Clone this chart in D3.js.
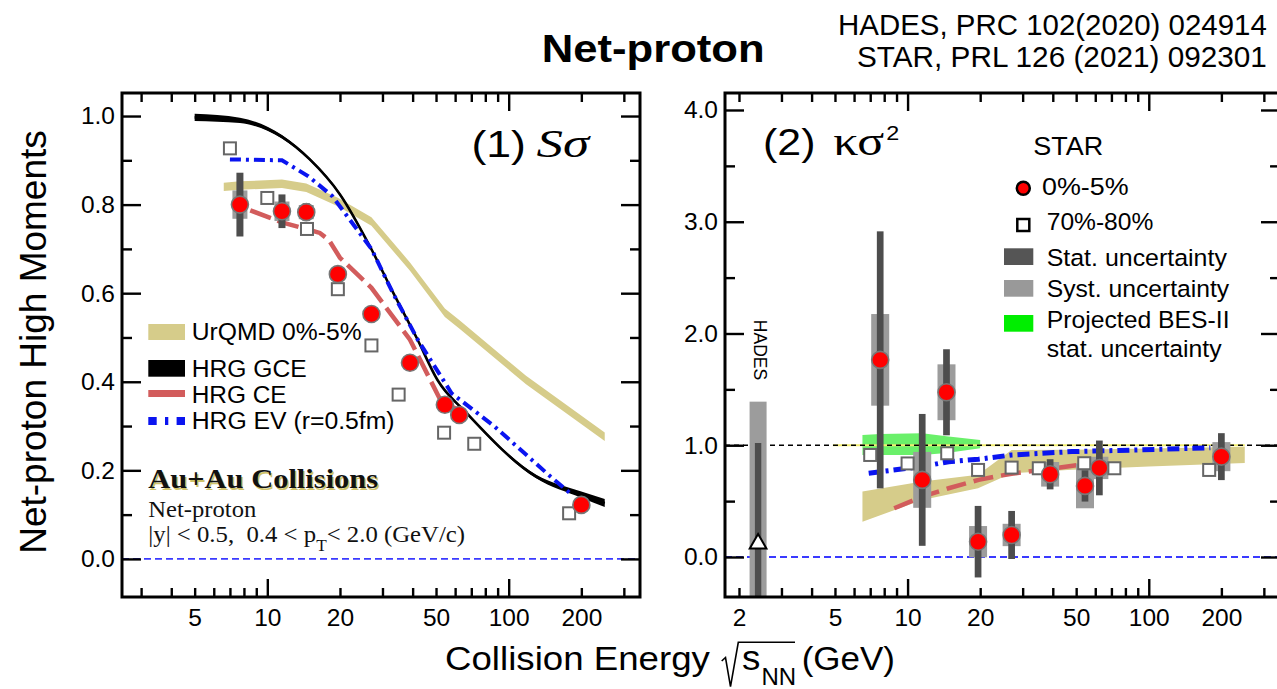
<!DOCTYPE html>
<html><head><meta charset="utf-8">
<script src="https://cdn.jsdelivr.net/npm/d3@7"></script>
<style>
html,body{margin:0;padding:0;background:#fff;}
svg{display:block;}
</style></head><body>
<svg id="c" width="1277" height="689"></svg>
<script>
// ---------------- DATA ----------------
const energies = [7.7, 11.5, 14.5, 19.6, 27, 39, 54.4, 62.4, 200];
const energiesPeriph = [7.0, 10.0, 14.6, 19.6, 27, 35, 54, 72, 178]; // plotted (shifted) positions of 70-80% points

// Panel 1: S*sigma
const sSigCentral = [0.800, 0.785, 0.783, 0.643, 0.553, 0.443, 0.348, 0.325, 0.122];
const sSigStat    = [0.072, 0.038, 0.020, 0.012, 0.010, 0.008, 0.008, 0.010, 0.006];
const sSigSyst    = [0.032, 0.022, 0.016, 0.012, 0.010, 0.008, 0.008, 0.008, 0.006];
const sSigPeriph  = [0.927, 0.815, 0.745, 0.609, 0.482, 0.371, 0.285, 0.260, 0.103];

const urqmdSSigE = [6.6, 7.7, 11.5, 14.5, 19.6, 27, 39, 54.4, 62.4, 118, 250];
const urqmdSSig  = [0.840, 0.843, 0.847, 0.838, 0.806, 0.762, 0.660, 0.556, 0.530, 0.404, 0.276];
const gceSSigE = [5, 7.7, 11.5, 15, 20, 26.6, 33.3, 41.5, 50.7, 67, 130, 200, 250];
const gceSSig  = [0.997, 0.990, 0.953, 0.902, 0.823, 0.706, 0.600, 0.500, 0.404, 0.329, 0.186, 0.145, 0.126];
const gceSSigHalf = [0.008, 0.006, 0.004, 0.003, 0.003, 0.003, 0.003, 0.003, 0.003, 0.003, 0.004, 0.007, 0.009];
const ceSSigE = [8.5, 11.5, 14.5, 16.5, 18, 20, 27, 39, 52, 62];
const ceSSig  = [0.787, 0.760, 0.745, 0.736, 0.720, 0.680, 0.612, 0.495, 0.360, 0.335];
const evSSigE = [7.0, 11.5, 14.8, 18.6, 27, 33.3, 42, 58, 87, 149, 180];
const evSSig  = [0.902, 0.900, 0.864, 0.819, 0.700, 0.598, 0.495, 0.374, 0.300, 0.186, 0.148];

// Panel 2: kappa*sigma^2
const kSigCentral = [1.764, 0.690, 1.474, 0.137, 0.197, 0.740, 0.636, 0.797, 0.898];
const kSigStat    = [1.150, 0.590, 0.385, 0.320, 0.215, 0.135, 0.140, 0.245, 0.210];
const kSigSyst    = [0.410, 0.250, 0.250, 0.140, 0.100, 0.110, 0.200, 0.100, 0.130];
const kSigPeriph  = [0.913, 0.837, 0.928, 0.779, 0.800, 0.794, 0.839, 0.794, 0.779];

const hadesE = [2.4];
const hadesK = [0.12];
const hadesStat = [0.90];
const hadesSyst = [1.27];

const urqmdKE  = [6.5, 11.5, 19.6, 27, 48, 100, 250];
const urqmdKLo = [0.316, 0.510, 0.615, 0.750, 0.780, 0.810, 0.840];
const urqmdKHi = [0.585, 0.675, 0.735, 0.958, 0.960, 0.970, 0.987];
const besE  = [6.5, 7.7, 11.5, 14.5, 20];
const besLo = [0.913, 0.913, 0.913, 0.930, 0.973];
const besHi = [1.092, 1.100, 1.107, 1.080, 1.047];
const ceKE = [8.8, 11.5, 14.8, 19.7, 23.2, 27, 39, 54.4, 62.4];
const ceK  = [0.436, 0.540, 0.615, 0.690, 0.720, 0.745, 0.790, 0.830, 0.845];
const evKE = [6.9, 11.5, 14.8, 19.7, 27, 48, 90, 180];
const evK  = [0.750, 0.810, 0.853, 0.875, 0.913, 0.943, 0.958, 0.978];
const unityE = [4.9, 250];
const unityK = [1, 1];

// ticks
const xMinorL = [3,4,5,6,7,8,9,20,30,40,50,60,70,80,90,200,300];
const xMinorR = [2,3,4,5,6,7,8,9,20,30,40,50,60,70,80,90,200,300];
const xMajor = [10, 100];
const xLabelsL = [5, 10, 20, 50, 100, 200];
const xLabelsR = [2, 5, 10, 20, 50, 100, 200];
const yMajorL = [0, 0.2, 0.4, 0.6, 0.8, 1.0];
const yMinorL = [0.1, 0.3, 0.5, 0.7, 0.9];
const yMajorR = [0, 1, 2, 3, 4];
const yMinorR = [0.5, 1.5, 2.5, 3.5];

// ---------------- DRAW ----------------
const FONT = '"Liberation Sans", Arial, Helvetica, sans-serif';
const SERIF = '"Liberation Serif", "Times New Roman", Times, serif';
const svg = d3.select("#c");

const xL = d3.scaleLog().domain([2.5, 350]).range([122, 640]);
const yL = d3.scaleLinear().domain([-0.086, 1.052]).range([597, 93]);
const xR = d3.scaleLog().domain([1.75, 350]).range([725, 1280]);
const yR = d3.scaleLinear().domain([-0.358, 4.152]).range([597, 93]);

const C = {
  khaki: "#d6cc8a", red: "#d25c5c", blue: "#0a14f0", dot: "#ff0000",
  stat: "#4d4d4d", syst: "#9c9c9c", green: "#6af06a"
};

function label(parent, o) {
  const g = parent.append("g");
  const t = g.append("text")
    .attr("font-size", o.size)
    .attr("font-family", o.family || FONT)
    .attr("font-weight", o.weight || "normal")
    .attr("font-style", o.style || "normal")
    .attr("fill", o.fill || "#000");
  if (typeof o.text === "function") o.text(t); else t.text(o.text);
  const w = t.node().getComputedTextLength();
  const k = o.width ? o.width / w : (o.k || 1);
  let tx = o.x;
  if (o.anchor === "end") tx -= w * k;
  else if (o.anchor === "middle") tx -= w * k / 2;
  g.attr("transform", `translate(${tx},${o.y}) scale(${k},1)`);
  return {g, w: w * k};
}

function clip(id, x, y) {
  svg.append("clipPath").attr("id", id).append("rect")
    .attr("x", x.range()[0]).attr("y", y.range()[1])
    .attr("width", x.range()[1] - x.range()[0]).attr("height", y.range()[0] - y.range()[1]);
  return svg.append("g").attr("clip-path", `url(#${id})`);
}

function axes(x, y, cfg) {
  const g = svg.append("g");
  const [x0, x1] = x.range(), [y0, y1] = y.range();
  const tk = (gen, tr) => {
    const a = g.append("g").attr("transform", tr).call(gen);
    a.select(".domain").remove();
    a.selectAll("line").attr("stroke", "#000").attr("stroke-width", 2.4);
  };
  tk(d3.axisBottom(x).tickValues(cfg.xMinor).tickSize(-9).tickFormat(""), `translate(0,${y0})`);
  tk(d3.axisBottom(x).tickValues(xMajor).tickSize(-18).tickFormat(""), `translate(0,${y0})`);
  tk(d3.axisTop(x).tickValues(cfg.xMinor).tickSize(-9).tickFormat(""), `translate(0,${y1})`);
  tk(d3.axisTop(x).tickValues(xMajor).tickSize(-18).tickFormat(""), `translate(0,${y1})`);
  tk(d3.axisLeft(y).tickValues(cfg.yMinor).tickSize(-10).tickFormat(""), `translate(${x0},0)`);
  tk(d3.axisLeft(y).tickValues(cfg.yMajor).tickSize(-19).tickFormat(""), `translate(${x0},0)`);
  tk(d3.axisRight(y).tickValues(cfg.yMinor).tickSize(-10).tickFormat(""), `translate(${x1},0)`);
  tk(d3.axisRight(y).tickValues(cfg.yMajor).tickSize(-19).tickFormat(""), `translate(${x1},0)`);
  const xl = g.append("g").attr("transform", `translate(0,${y0})`)
    .call(d3.axisBottom(x).tickValues(cfg.xLabels).tickSize(0).tickPadding(12).tickFormat(d3.format("d")));
  xl.select(".domain").remove();
  xl.selectAll("text").attr("font-size", 24.5).attr("font-family", FONT).attr("fill", "#000");
  const yl = g.append("g").attr("transform", `translate(${x0},0)`)
    .call(d3.axisLeft(y).tickValues(cfg.yMajor).tickSize(0).tickPadding(7).tickFormat(d3.format(".1f")));
  yl.select(".domain").remove();
  yl.selectAll("text").attr("font-size", 24.5).attr("font-family", FONT).attr("fill", "#000");
  g.append("rect").attr("x", x0).attr("y", y1).attr("width", x1 - x0).attr("height", y0 - y1)
    .attr("fill", "none").attr("stroke", "#000").attr("stroke-width", 3);
}

function points(g, x, y, central, stat, syst, periph, sw, bw) {
  const rows = energies.map((e, i) => ({e, v: central[i], st: stat[i], sy: syst[i], pe: energiesPeriph[i], pv: periph[i]}));
  g.selectAll(null).data(rows).join("rect")
    .attr("x", d => x(d.e) - sw / 2).attr("width", sw)
    .attr("y", d => y(d.v + d.sy)).attr("height", d => y(d.v - d.sy) - y(d.v + d.sy))
    .attr("fill", C.syst);
  g.selectAll(null).data(rows).join("rect")
    .attr("x", d => x(d.e) - bw / 2).attr("width", bw)
    .attr("y", d => y(d.v + d.st)).attr("height", d => y(d.v - d.st) - y(d.v + d.st))
    .attr("fill", C.stat);
  g.selectAll(null).data(rows).join("rect")
    .attr("x", d => x(d.pe) - 6).attr("y", d => y(d.pv) - 6).attr("width", 12).attr("height", 12)
    .attr("fill", "#fff").attr("stroke", "#666").attr("stroke-width", 2);
  g.selectAll(null).data(rows).join("circle")
    .attr("cx", d => x(d.e)).attr("cy", d => y(d.v)).attr("r", 8.5)
    .attr("fill", C.dot).attr("stroke", "#777").attr("stroke-width", 1.6);
}

const zipXY = (a, b) => a.map((v, i) => [v, b[i]]);

// ---------- Panel 1 ----------
{
  const g = clip("clipL", xL, yL);
  const line = d3.line().x(d => xL(d[0])).y(d => yL(d[1]));
  g.append("path").datum(zipXY(urqmdSSigE, urqmdSSig))
    .attr("d", d3.area().x(d => xL(d[0])).y0(d => yL(d[1] - 0.0095)).y1(d => yL(d[1] + 0.0095)))
    .attr("fill", C.khaki);
  g.append("path").datum([[2.5, 0], [350, 0]]).attr("d", line)
    .attr("stroke", "#3a3aff").attr("stroke-width", 1.8).attr("stroke-dasharray", "7,4").attr("fill", "none");
  g.append("path").datum(gceSSigE.map((e, i) => [e, gceSSig[i], gceSSigHalf[i]]))
    .attr("d", d3.area().curve(d3.curveMonotoneX).x(d => xL(d[0])).y0(d => yL(d[1] - d[2])).y1(d => yL(d[1] + d[2])))
    .attr("fill", "#000");
  g.append("path").datum(zipXY(gceSSigE, gceSSig)).attr("d", d3.line().curve(d3.curveMonotoneX).x(d => xL(d[0])).y(d => yL(d[1])))
    .attr("stroke", "#000").attr("stroke-width", 2.6).attr("fill", "none");
  g.append("path").datum(zipXY(ceSSigE, ceSSig)).attr("d", line)
    .attr("stroke", C.red).attr("stroke-width", 4.5).attr("stroke-dasharray", "22,7").attr("fill", "none");
  g.append("path").datum(zipXY(evSSigE, evSSig)).attr("d", line)
    .attr("stroke", C.blue).attr("stroke-width", 4).attr("stroke-dasharray", "11,5,3,5").attr("fill", "none");
  points(g, xL, yL, sSigCentral, sSigStat, sSigSyst, sSigPeriph, 15, 7);
  axes(xL, yL, {xMinor: xMinorL, xLabels: xLabelsL, yMajor: yMajorL, yMinor: yMinorL});

  const lg = svg.append("g");
  lg.append("rect").attr("x", 148.3).attr("y", 324).attr("width", 36.7).attr("height", 16).attr("fill", C.khaki);
  lg.append("rect").attr("x", 148.3).attr("y", 360).attr("width", 36.7).attr("height", 16.7).attr("fill", "#000");
  lg.append("rect").attr("x", 148.3).attr("y", 390).attr("width", 36.7).attr("height", 7).attr("fill", C.red);
  lg.append("line").attr("x1", 148.3).attr("x2", 185).attr("y1", 421).attr("y2", 421)
    .attr("stroke", C.blue).attr("stroke-width", 8).attr("stroke-dasharray", "8.4,8.3,3.3,8.3,8.4");
  label(svg, {x: 191.7, y: 340, size: 23.5, text: "UrQMD 0%-5%", width: 170});
  label(svg, {x: 191.7, y: 376.7, size: 23.5, text: "HRG GCE", width: 115});
  label(svg, {x: 191.7, y: 403.3, size: 23.5, text: "HRG CE", width: 95});
  label(svg, {x: 191.7, y: 429.3, size: 23.5, text: "HRG EV (r=0.5fm)", width: 203});

  label(svg, {x: 149.8, y: 490, size: 28, family: SERIF, weight: "bold", text: "Au+Au Collisions", width: 230, fill: "#cfc36a"});
  label(svg, {x: 148.3, y: 488.3, size: 28, family: SERIF, weight: "bold", text: "Au+Au Collisions", width: 230, fill: "#111"});
  label(svg, {x: 148.3, y: 516.7, size: 23, family: SERIF, text: "Net-proton", width: 108, fill: "#111"});
  label(svg, {x: 148.3, y: 542.3, size: 23, family: SERIF, fill: "#111", width: 317, text: t => {
    t.append("tspan").text("|y| < 0.5,\u00A0 0.4 < p");
    t.append("tspan").attr("font-size", 16).attr("dy", 9).text("T");
    t.append("tspan").attr("dy", -9).text("< 2.0 (GeV/c)");
  }});

  label(svg, {x: 471.4, y: 157, size: 37, text: "(1)", width: 54.6});
  label(svg, {x: 536.6, y: 157, size: 40, family: SERIF, style: "italic", text: "Sσ", width: 52.6});
}

// ---------- Panel 2 ----------
{
  const g = clip("clipR", xR, yR);
  const line = d3.line().x(d => xR(d[0])).y(d => yR(d[1]));
  const band = d3.area().x(d => xR(d[0])).y0(d => yR(d[1])).y1(d => yR(d[2]));
  g.append("path").datum(besE.map((e, i) => [e, besLo[i], besHi[i]])).attr("d", band).attr("fill", C.green);
  g.append("path").datum(urqmdKE.map((e, i) => [e, urqmdKLo[i], urqmdKHi[i]])).attr("d", band).attr("fill", C.khaki);
  g.append("path").datum(zipXY(unityE, unityK)).attr("d", line)
    .attr("stroke", "#f2ee70").attr("stroke-width", 2).attr("fill", "none");
  g.append("path").datum([[1.75, 1], [350, 1]]).attr("d", line)
    .attr("stroke", "#000").attr("stroke-width", 1.4).attr("stroke-dasharray", "5,4").attr("fill", "none");
  g.append("path").datum([[1.75, 0], [350, 0]]).attr("d", line)
    .attr("stroke", "#3a3aff").attr("stroke-width", 1.8).attr("stroke-dasharray", "7,4").attr("fill", "none");
  g.append("path").datum(zipXY(ceKE, ceK)).attr("d", line)
    .attr("stroke", C.red).attr("stroke-width", 4.5).attr("stroke-dasharray", "20,8").attr("fill", "none");
  g.append("path").datum(zipXY(evKE, evK)).attr("d", line)
    .attr("stroke", C.blue).attr("stroke-width", 5).attr("stroke-dasharray", "12,5,3,5").attr("fill", "none");

  const hd = hadesE.map((e, i) => ({e, v: hadesK[i], st: hadesStat[i], sy: hadesSyst[i]}));
  g.selectAll(null).data(hd).join("rect")
    .attr("x", d => xR(d.e) - 8.5).attr("width", 17)
    .attr("y", d => yR(d.v + d.sy)).attr("height", d => yR(d.v - d.sy) - yR(d.v + d.sy)).attr("fill", C.syst);
  g.selectAll(null).data(hd).join("rect")
    .attr("x", d => xR(d.e) - 3.2).attr("width", 6.4)
    .attr("y", d => yR(d.v + d.st)).attr("height", d => yR(d.v - d.st) - yR(d.v + d.st)).attr("fill", C.stat);
  g.selectAll(null).data(hd).join("path")
    .attr("d", d3.symbol().type(d3.symbolTriangle).size(120))
    .attr("transform", d => `translate(${xR(d.e)},${yR(d.v)})`)
    .attr("fill", "#fff").attr("stroke", "#000").attr("stroke-width", 2);

  points(g, xR, yR, kSigCentral, kSigStat, kSigSyst, kSigPeriph, 18, 6.7);
  axes(xR, yR, {xMinor: xMinorR, xLabels: xLabelsR, yMajor: yMajorR, yMinor: yMinorR});

  svg.append("text").attr("transform", "translate(753.5,350) rotate(90)")
    .attr("text-anchor", "middle").attr("font-family", FONT).attr("font-size", 17.5).text("HADES");

  label(svg, {x: 1033.3, y: 155, size: 25, text: "STAR", width: 70});
  svg.append("circle").attr("cx", 1023.3).attr("cy", 188.3).attr("r", 6.5)
    .attr("fill", C.dot).attr("stroke", "#000").attr("stroke-width", 2.5);
  label(svg, {x: 1042, y: 195, size: 23.5, text: "0%-5%", width: 86.7});
  svg.append("rect").attr("x", 1017.3).attr("y", 219).attr("width", 12).attr("height", 12)
    .attr("fill", "#fff").attr("stroke", "#000").attr("stroke-width", 2.5);
  label(svg, {x: 1046.7, y: 230, size: 23.5, text: "70%-80%", width: 106.7});
  svg.append("rect").attr("x", 1004).attr("y", 248.3).attr("width", 29.3).attr("height", 16.7).attr("fill", "#555");
  label(svg, {x: 1046.7, y: 265.7, size: 23.5, text: "Stat. uncertainty", width: 180.3});
  svg.append("rect").attr("x", 1004).attr("y", 280).attr("width", 29.3).attr("height", 16.7).attr("fill", "#999");
  label(svg, {x: 1046.7, y: 297, size: 23.5, text: "Syst. uncertainty", width: 182.6});
  svg.append("rect").attr("x", 1004).attr("y", 315).attr("width", 29.3).attr("height", 16.7).attr("fill", "#00ee00");
  label(svg, {x: 1046.7, y: 328, size: 23.5, text: "Projected BES-II", width: 183});
  label(svg, {x: 1046.7, y: 356.7, size: 23.5, text: "stat. uncertainty", width: 175});

  label(svg, {x: 763.1, y: 155, size: 37, text: "(2)", width: 52.4});
  label(svg, {x: 833.2, y: 155, size: 42, family: SERIF, text: "κσ", width: 51});
  label(svg, {x: 886.3, y: 140, size: 20, text: "2", width: 13});
}

// ---------- Titles ----------
label(svg, {x: 541.7, y: 62, size: 39, weight: "bold", text: "Net-proton", width: 223});
label(svg, {x: 1267, y: 35, size: 29.5, text: "HADES, PRC 102(2020) 024914", width: 429, anchor: "end"});
label(svg, {x: 1267, y: 66.7, size: 29.5, text: "STAR, PRL 126 (2021) 092301", width: 410, anchor: "end"});

svg.append("text").attr("transform", "translate(46,342) rotate(-90)")
  .attr("text-anchor", "middle").attr("font-family", FONT).attr("font-size", 37)
  .text("Net-proton High Moments");

label(svg, {x: 445, y: 670, size: 33, text: "Collision Energy", width: 265});
svg.append("path").attr("d", "M721.7,661 L725.5,657.5 L730.5,686.7 L738.3,642.3 L795,642.3")
  .attr("fill", "none").attr("stroke", "#000").attr("stroke-width", 1.6);
const sLab = label(svg, {x: 742, y: 670, size: 35, text: "s", k: 1.05});
label(svg, {x: 742 + sLab.w + 1, y: 685, size: 24, text: "NN", k: 1.0});
label(svg, {x: 801.7, y: 670, size: 33, text: "(GeV)", width: 93.3});
</script></body></html>
